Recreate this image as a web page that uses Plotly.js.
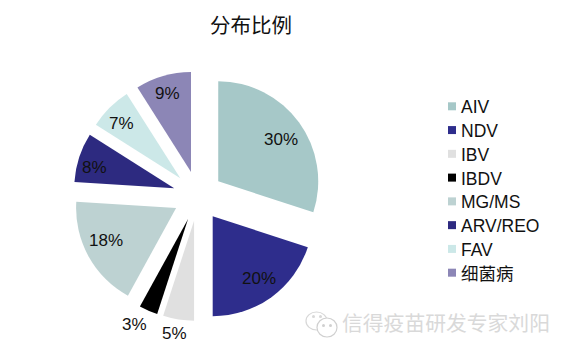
<!DOCTYPE html>
<html>
<head>
<meta charset="utf-8">
<script src="https://cdn.plot.ly/plotly-3.0.1.min.js"></script>
<style>html,body{margin:0;padding:0;background:#fff}</style>
</head>
<body>
<div id="chart" style="width:571px;height:353px"></div>
<script>
var categories = ['AIV','NDV','IBV','IBDV','MG/MS','ARV/REO','FAV','细菌病'];
var shares = [30,20,5,3,18,8,7,9];
var sliceColors = ['#A6C8C8','#2E2D8C','#E0E0E0','#000000','#BDD2D2','#2D2A80','#CCE8E8','#8C86B6'];
var pulls = [0.25,0.25,0.25,0.25,0.25,0.25,0.25,0.25];

var W = 571, H = 353;
var cx = 198, cy = 196, pieR = 125;
var labelDist = [101,102,138,142,102,108,106,108];
var labelTurnDeg = [1,-0.6,0.6,3,3.3,-2,-1,0];
var fontStack = 'Liberation Sans, Arial, Noto Sans CJK SC, sans-serif';
var px = function(x){return x/W;}, py = function(y){return 1-y/H;};

var annotations = [], shapes = [];
var total = shares.reduce(function(a,b){return a+b;},0), acc = 0;
shares.forEach(function(v,i){
  var mid = (acc + v/2)/total*2*Math.PI + labelTurnDeg[i]*Math.PI/180; acc += v;
  annotations.push({text:v+'%', xref:'paper', yref:'paper', showarrow:false,
    x:px(cx+labelDist[i]*Math.sin(mid)), y:py(cy+1-labelDist[i]*Math.cos(mid)), xanchor:'center', yanchor:'middle',
    font:{family:fontStack,size:17,color:'#111111'}});
});
categories.forEach(function(name,i){
  var yc = 106.3 + i*23.77;
  shapes.push({type:'rect',xref:'paper',yref:'paper',x0:px(448),x1:px(456),y0:py(yc+4),y1:py(yc-4),
    fillcolor:sliceColors[i],line:{width:0}});
  annotations.push({text:name,xref:'paper',yref:'paper',showarrow:false,x:px(458.5),xanchor:'left',y:py(yc+1),yanchor:'middle',
    font:{family:fontStack,size:17.5,color:'#111111'}});
});
annotations.push({text:'信得疫苗研发专家刘阳', xref:'paper', yref:'paper', x:px(340), xanchor:'left', y:py(322), yanchor:'middle',
    showarrow:false, font:{family:'Noto Sans CJK SC, sans-serif',size:20.8,color:'#D9D9D9'}});
shapes.push(
  {type:'circle',xref:'paper',yref:'paper',x0:px(306),x1:px(327),y0:py(330),y1:py(312),line:{color:'#D8D8D8',width:1.2},fillcolor:'#fff'},
  {type:'circle',xref:'paper',yref:'paper',x0:px(317),x1:px(337),y0:py(337),y1:py(318),line:{color:'#D0D0D0',width:1.2},fillcolor:'#fff'},
  {type:'circle',xref:'paper',yref:'paper',x0:px(312),x1:px(315),y0:py(318),y1:py(315),line:{width:0},fillcolor:'#D8D8D8'},
  {type:'circle',xref:'paper',yref:'paper',x0:px(319),x1:px(322),y0:py(318),y1:py(315),line:{width:0},fillcolor:'#D8D8D8'},
  {type:'circle',xref:'paper',yref:'paper',x0:px(322),x1:px(325),y0:py(327),y1:py(324),line:{width:0},fillcolor:'#D0D0D0'},
  {type:'circle',xref:'paper',yref:'paper',x0:px(329),x1:px(332),y0:py(327),y1:py(324),line:{width:0},fillcolor:'#D0D0D0'}
);

Plotly.newPlot('chart', [{
  type:'pie', labels:categories, values:shares, sort:false, direction:'clockwise', rotation:0,
  pull:pulls, marker:{colors:sliceColors, line:{width:0}},
  textinfo:'none', automargin:false,
  domain:{x:[px(cx-pieR),px(cx+pieR)], y:[py(cy+pieR),py(cy-pieR)]},
  hoverinfo:'label+percent'
}], {
  width:W, height:H, margin:{l:0,r:0,t:0,b:0}, paper_bgcolor:'#fff', showlegend:false,
  title:{text:'分布比例', x:px(251), xanchor:'center', y:py(26), yanchor:'middle',
         font:{family:'Noto Sans CJK SC, sans-serif',size:20.5,color:'#111111'}},
  annotations:annotations, shapes:shapes
}, {displayModeBar:false, staticPlot:true});
</script>
</body>
</html>
